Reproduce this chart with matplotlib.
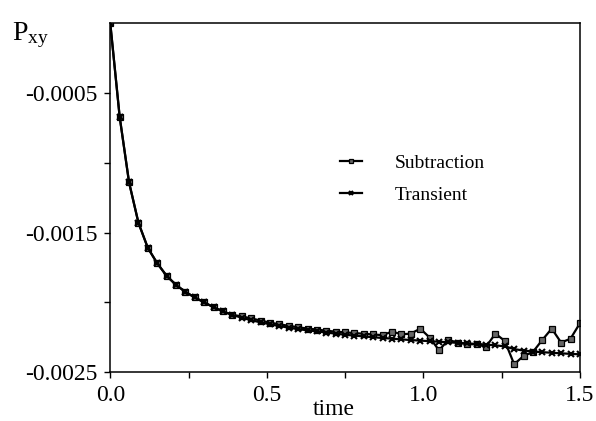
import matplotlib
matplotlib.use('Agg')
import matplotlib.pyplot as plt
import numpy as np

plt.rcParams['font.family'] = ['Liberation Serif', 'DejaVu Serif']
plt.rcParams['mathtext.fontset'] = 'custom'
plt.rcParams['mathtext.rm'] = 'Liberation Serif'
plt.rcParams['mathtext.it'] = 'Liberation Serif'
plt.rcParams['axes.unicode_minus'] = False

# time samples (dt = 0.03)
time = [0.00, 0.03, 0.06, 0.09, 0.12, 0.15, 0.18, 0.21, 0.24, 0.27,
        0.30, 0.33, 0.36, 0.39, 0.42, 0.45, 0.48, 0.51, 0.54, 0.57,
        0.60, 0.63, 0.66, 0.69, 0.72, 0.75, 0.78, 0.81, 0.84, 0.87,
        0.90, 0.93, 0.96, 0.99, 1.02, 1.05, 1.08, 1.11, 1.14, 1.17,
        1.20, 1.23, 1.26, 1.29, 1.32, 1.35, 1.38, 1.41, 1.44, 1.47,
        1.50]

# values in units of 1e-4
transient = [0.0, -6.7, -11.4, -14.3, -16.1, -17.2, -18.1, -18.75, -19.25, -19.65,
             -20.0, -20.35, -20.65, -20.9, -21.1, -21.28, -21.43, -21.57, -21.7, -21.81,
             -21.92, -22.0, -22.08, -22.16, -22.24, -22.32, -22.38, -22.44, -22.5, -22.55,
             -22.6, -22.65, -22.7, -22.74, -22.78, -22.82, -22.86, -22.9, -22.94, -22.98,
             -23.02, -23.08, -23.15, -23.35, -23.45, -23.52, -23.57, -23.61, -23.65, -23.69,
             -23.72]

subtraction = [0.0, -6.7, -11.4, -14.3, -16.1, -17.2, -18.1, -18.75, -19.25, -19.65,
               -20.0, -20.35, -20.65, -20.9, -21.0, -21.15, -21.3, -21.45, -21.57, -21.68,
               -21.78, -21.88, -21.95, -22.03, -22.1, -22.15, -22.2, -22.25, -22.3, -22.35,
               -22.09, -22.29, -22.24, -21.88, -22.52, -23.43, -22.69, -22.88, -23.0, -23.0,
               -23.19, -22.24, -22.76, -24.43, -23.84, -23.55, -22.69, -21.88, -22.88, -22.6,
               -21.5]

t = np.array(time)
tr = np.array(transient) * 1e-4
sub = np.array(subtraction) * 1e-4

fig = plt.figure(figsize=(5.96, 4.21), dpi=100)
ax = fig.add_axes([0.185, 0.116, 0.788, 0.829])

ax.plot(t, sub, color='black', linewidth=1.6, marker='s', markersize=3.8,
        markerfacecolor='0.4', markeredgecolor='black', markeredgewidth=0.9,
        label='Subtraction')
ax.plot(t, tr, color='black', linewidth=1.6, marker='x', markersize=4,
        markeredgewidth=1.5, label='Transient')

ax.set_xlim(0, 1.5)
ax.set_ylim(-0.0025, 0)

ax.set_xticks([0.0, 0.5, 1.0, 1.5])
ax.set_xticklabels(['0.0', '0.5', '1.0', '1.5'])
ax.set_xticks([0.25, 0.75, 1.25], minor=True)
ax.set_yticks([-0.0025, -0.0015, -0.0005])
ax.set_yticklabels(['-0.0025', '-0.0015', '-0.0005'])
ax.set_yticks([-0.002, -0.001], minor=True)

ax.tick_params(which='both', direction='out', length=4, width=1)
ax.tick_params(axis='both', labelsize=17, pad=5)

for s in ax.spines.values():
    s.set_linewidth(1.1)

ax.set_xlabel('time', fontsize=17)
ax.xaxis.set_label_coords(0.475, -0.077)
fig.text(0.02, 0.905, r'$\mathregular{P_{xy}}$', fontsize=20)

leg = ax.legend(loc='upper left', bbox_to_anchor=(0.49, 0.625), frameon=False,
                fontsize=14, handlelength=1.1, handletextpad=1.7,
                labelspacing=0.75, borderpad=0, borderaxespad=0, markerscale=0.8)

plt.savefig('out.png', dpi=100)
plt.close()
